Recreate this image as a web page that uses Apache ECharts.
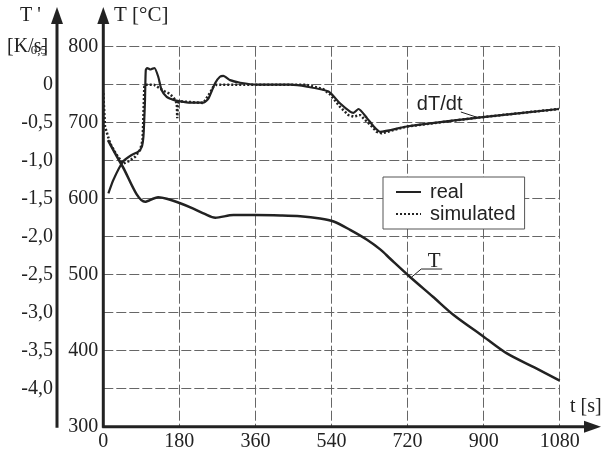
<!DOCTYPE html>
<html><head><meta charset="utf-8">
<script src="https://cdn.jsdelivr.net/npm/echarts@6/dist/echarts.min.js"></script>
<style>html,body{margin:0;padding:0;background:#fff}#c{width:603px;height:452px}</style>
</head><body><div id="c"></div>
<script>
// ---- data ----
const timeTicks = [0, 180, 360, 540, 720, 900, 1080];        // t [s]
const tempTicks = [300, 400, 500, 600, 700, 800];             // T [°C]
const rateTicks = [-4.0, -3.5, -3.0, -2.5, -2.0, -1.5, -1.0, -0.5, 0, 0.5]; // T' [K/s]

// temperature, real (t, °C)
const tempReal = [
  [11,677],[44,644],[99,596],[130,602],[150,600],[182,594],[213,587],[240,580],[265,575],
  [308,578.5],[359,578.5],[420,578],[466,577],[513,574],[545,570],[584,559],[624,546],
  [656,533],[679,521],[726,497],[780,471],[829,447],[900,418.5],[955,396.5],[1020,378],[1080,360.5]
];
// cooling rate, real (t, K/s)
const rateReal = [
  [12,-1.43],[24,-1.25],[47,-1.01],[67,-0.925],[83,-0.88],[91,-0.82],[95,-0.68],[97,-0.45],
  [98.7,-0.2],[100.5,0.19],[104,0.22],[112,0.2],[121,0.22],[130,0.105],[138,-0.07],[150,-0.16],
  [166,-0.2],[182,-0.22],[205,-0.237],[237,-0.237],[249,-0.18],[264.5,0.02],[276,0.105],
  [284,0.115],[300,0.06],[324,0.026],[363,0.0],[442,0.0],[482,-0.026],[533,-0.09],[560,-0.245],
  [584,-0.355],[592,-0.37],[604,-0.32],[624,-0.44],[640,-0.55],[655,-0.62],[718,-0.55],
  [892,-0.43],[1078,-0.32]
];
// cooling rate, simulated (t, K/s)
const rateSim = [
  [0,-0.11],[4,-0.55],[16,-0.77],[30,-0.91],[47,-1.04],[59,-1.01],[75,-0.95],[87,-0.86],
  [93,-0.73],[95,-0.4],[97,-0.03],[99,0.0],[120,0.0],[146,-0.09],[154,-0.11],[165,-0.16],
  [170,-0.2],[174,-0.25],[175,-0.44],[176.5,-0.24],[182,-0.22],[237,-0.24],[252,-0.11],
  [260,-0.03],[268,0.0],[480,0.0],[521,-0.06],[537,-0.13],[560,-0.29],[580,-0.40],[592,-0.42],
  [608,-0.40],[632,-0.53],[647,-0.62],[659,-0.64],[663,-0.62],[718,-0.55],[892,-0.43],[1078,-0.32]
];
const seriesNames = ['real', 'simulated'];
const curveLabels = { rate: 'dT/dt', temp: 'T' };

// ---- layout ----
const GL = 103.3, GT = 46.7, GR = 559.7, GB = 426.7;
const W = 603, H = 452;
const INK = '#222';
const SERIF = '"Liberation Serif", "DejaVu Serif", serif';
const SANS = '"Liberation Sans", Arial, sans-serif';
const gridLine = { show: true, lineStyle: { color: '#666', width: 1, type: [10, 3] } };

const chart = echarts.init(document.getElementById('c'), null, { renderer: 'canvas' });

function rateFmt(v) {
  if (v < rateTicks[0] - 0.01) return '';
  if (v === 0) return '0';
  if (v > 0.25) return '{s|' + v.toFixed(1).replace('.', ',') + '}';
  return v.toFixed(1).replace('.', ',');
}

const option = {
  animation: false,
  backgroundColor: '#fff',
  color: [INK, INK, INK],
  grid: { left: GL, top: GT, right: W - GR, bottom: H - GB, containLabel: false },
  xAxis: {
    type: 'value', min: timeTicks[0], max: timeTicks[timeTicks.length - 1], interval: 180,
    axisLine: { show: false }, axisTick: { show: false },
    axisLabel: { margin: 5, color: INK, fontFamily: SERIF, fontSize: 20, formatter: v => String(v) },
    splitLine: gridLine
  },
  yAxis: [
    {
      type: 'value', position: 'left', min: 300, max: 800, interval: 50,
      axisLine: { show: false }, axisTick: { show: false },
      axisLabel: { margin: 5, color: INK, fontFamily: SERIF, fontSize: 20,
        formatter: v => tempTicks.includes(v) ? String(v) : '' },
      splitLine: gridLine
    },
    {
      type: 'value', position: 'left', offset: GL - 57, min: -4.5, max: 0.5, interval: 0.5,
      axisLine: { show: false }, axisTick: { show: false }, splitLine: { show: false },
      axisLabel: { margin: 4, color: INK, fontFamily: SERIF, fontSize: 20, formatter: rateFmt,
        rich: { s: { fontFamily: SERIF, fontSize: 13, color: INK, padding: [8, 6, 0, 0] } } }
    }
  ],
  legend: {
    data: seriesNames, orient: 'vertical', left: 383, top: 177,
    backgroundColor: '#fff', borderColor: '#555', borderWidth: 1, borderRadius: 0,
    padding: [5, 9, 5, 12], itemGap: 2, itemWidth: 25, itemHeight: 14,
    itemStyle: { opacity: 0 },
    textStyle: { fontFamily: SANS, fontSize: 20, color: INK, padding: [0, 0, 0, 4] }
  },
  series: [
    { name: seriesNames[0], type: 'line', data: tempReal, xAxisIndex: 0, yAxisIndex: 0,
      symbol: 'none', smooth: 0.3, itemStyle: { color: INK },
      lineStyle: { color: INK, width: 2.5 }, z: 3 },
    { name: seriesNames[1], type: 'line', data: rateSim, xAxisIndex: 0, yAxisIndex: 1,
      symbol: 'none', smooth: false, itemStyle: { color: INK },
      lineStyle: { color: INK, width: 2.5, type: [2, 2] }, z: 2 },
    { name: seriesNames[0], type: 'line', data: rateReal, xAxisIndex: 0, yAxisIndex: 1,
      symbol: 'none', smooth: 0.2, itemStyle: { color: INK },
      lineStyle: { color: INK, width: 2.2 }, z: 3 }
  ]
};
chart.setOption(option);

// annotation anchors in data space
const pRateText = chart.convertToPixel({ xAxisIndex: 0, yAxisIndex: 1 }, [742, -0.254]);
const pRateLead = chart.convertToPixel({ xAxisIndex: 0, yAxisIndex: 1 }, [885, -0.43]);
const pTempText = chart.convertToPixel({ xAxisIndex: 0, yAxisIndex: 0 }, [783, 518]);
const pTempLead = chart.convertToPixel({ xAxisIndex: 0, yAxisIndex: 0 }, [730, 497]);

const axisStroke = { stroke: INK, lineWidth: 3 };
chart.setOption({
  graphic: [
    // y axes with arrows
    { type: 'line', shape: { x1: GL, y1: GB + 1, x2: GL, y2: 16 }, style: axisStroke, z: 10 },
    { type: 'polygon', shape: { points: [[GL - 6, 24], [GL + 6, 24], [GL, 7]] }, style: { fill: INK }, z: 10 },
    { type: 'line', shape: { x1: 57, y1: GB + 1, x2: 57, y2: 16 }, style: axisStroke, z: 10 },
    { type: 'polygon', shape: { points: [[51, 24], [63, 24], [57, 7]] }, style: { fill: INK }, z: 10 },
    // x axis with arrow
    { type: 'line', shape: { x1: GL - 1, y1: GB, x2: 590, y2: GB }, style: axisStroke, z: 10 },
    { type: 'polygon', shape: { points: [[584, GB - 6], [584, GB + 6], [601, GB]] }, style: { fill: INK }, z: 10 },
    // axis names
    { type: 'text', left: 20, top: 6, style: { text: "T '", font: '20px ' + SERIF, fill: INK } },
    { type: 'text', left: 7, top: 37, style: { text: '[K/s]', font: '20px ' + SERIF, fill: INK } },
    { type: 'text', left: 114, top: 5, style: { text: 'T [°C]', font: '21px ' + SERIF, fill: INK } },
    { type: 'text', left: 570, top: 397, style: { text: 't [s]', font: '20px ' + SERIF, fill: INK } },
    // curve labels
    { type: 'text', x: pRateText[0], y: pRateText[1], style: { text: curveLabels.rate, font: '20px ' + SANS, fill: INK, textVerticalAlign: 'middle' } },
    { type: 'line', shape: { x1: pRateText[0] + 44, y1: pRateText[1] + 8, x2: pRateLead[0], y2: pRateLead[1] }, style: { stroke: INK, lineWidth: 1 } },
    { type: 'text', x: pTempText[0], y: pTempText[1], style: { text: curveLabels.temp, font: '21px ' + SERIF, fill: INK, textAlign: 'center', textVerticalAlign: 'middle' } },
    { type: 'polyline', shape: { points: [[pTempLead[0], pTempLead[1]], [pTempText[0] - 13, pTempText[1] + 8], [pTempText[0] + 8, pTempText[1] + 8]] }, style: { stroke: INK, lineWidth: 1, fill: null } }
  ]
});
</script>
</body></html>
